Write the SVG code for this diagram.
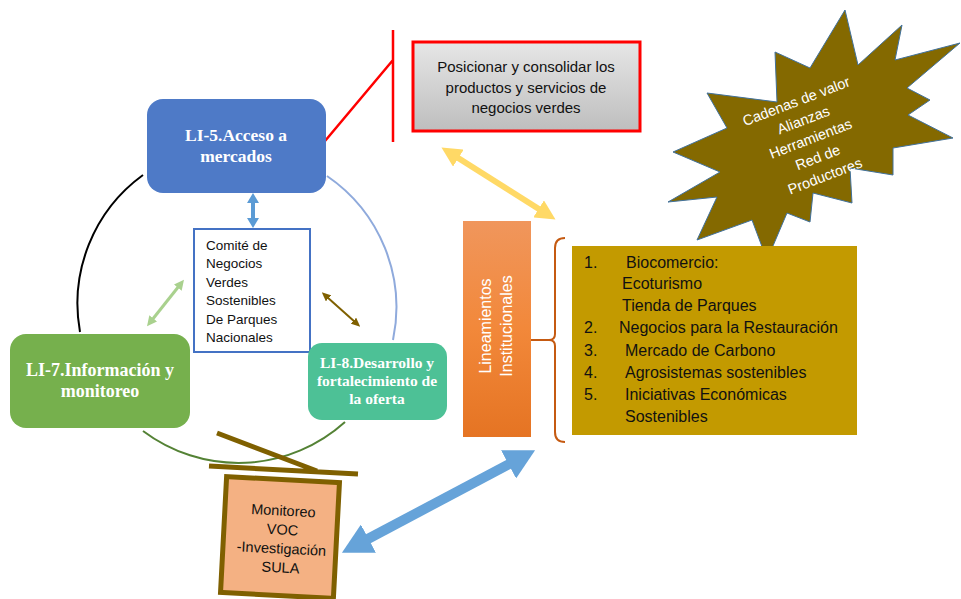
<svg xmlns="http://www.w3.org/2000/svg" width="961" height="599" viewBox="0 0 961 599">
<defs>
<style>
.serif{font-family:"Liberation Serif","Times New Roman",serif;font-weight:bold;fill:#fff;text-anchor:middle}
.sans{font-family:"Liberation Sans",Arial,sans-serif;fill:#111}
.arc{fill:none;stroke-width:2}
</style>
<linearGradient id="gGray" x1="0" y1="0" x2="0" y2="1"><stop offset="0" stop-color="#E6E6E6"/><stop offset="1" stop-color="#BEBEBE"/></linearGradient>
<linearGradient id="gOrange" x1="0" y1="0" x2="0" y2="1"><stop offset="0" stop-color="#F0965C"/><stop offset="0.5" stop-color="#F2883A"/><stop offset="1" stop-color="#E57423"/></linearGradient>
<marker id="mBlueBig" viewBox="0 0 30 32" markerUnits="userSpaceOnUse" markerWidth="30" markerHeight="32" refX="5" refY="16" orient="auto-start-reverse"><path d="M0,0 L30,16 L0,32 z" fill="#66A3D9"/></marker>
<marker id="mYellow" viewBox="0 0 20 20" markerUnits="userSpaceOnUse" markerWidth="20" markerHeight="20" refX="4" refY="10" orient="auto-start-reverse"><path d="M0,0 L20,10 L0,20 z" fill="#FFD966"/></marker>
<marker id="mBlueS" viewBox="0 0 10 12" markerUnits="userSpaceOnUse" markerWidth="10" markerHeight="12" refX="2" refY="6" orient="auto-start-reverse"><path d="M0,0 L10,6 L0,12 z" fill="#5B9BD5"/></marker>
<marker id="mGreen" viewBox="0 0 10 10" markerUnits="userSpaceOnUse" markerWidth="10" markerHeight="10" refX="2" refY="5" orient="auto-start-reverse"><path d="M0,0 L10,5 L0,10 z" fill="#A9D18E"/></marker>
<marker id="mBrown" viewBox="0 0 9 8" markerUnits="userSpaceOnUse" markerWidth="9" markerHeight="8" refX="2" refY="4" orient="auto-start-reverse"><path d="M0,0 L9,4 L0,8 z" fill="#7F6000"/></marker>
</defs>
<rect width="961" height="599" fill="#fff"/>

<g id="connectors">
<path class="arc" d="M143,175 A159,159 0 0 0 80,332" stroke="#000"/>
<path class="arc" d="M327,176 A159,159 0 0 1 393,340" stroke="#8FAADC"/>
<path class="arc" d="M143,431 A159,159 0 0 0 345,422" stroke="#548235"/>
<path d="M325,141 L393,60 M393,30 L393,142" fill="none" stroke="#FF0000" stroke-width="2.5"/>
<line x1="455" y1="156" x2="542" y2="211" stroke="#FFD966" stroke-width="6" marker-start="url(#mYellow)" marker-end="url(#mYellow)"/>
<line x1="364" y1="541" x2="513" y2="462" stroke="#66A3D9" stroke-width="10" marker-start="url(#mBlueBig)" marker-end="url(#mBlueBig)"/>
<line x1="253" y1="201" x2="253" y2="220" stroke="#5B9BD5" stroke-width="4" marker-start="url(#mBlueS)" marker-end="url(#mBlueS)"/>
<line x1="152" y1="320" x2="179" y2="286" stroke="#A9D18E" stroke-width="3" marker-start="url(#mGreen)" marker-end="url(#mGreen)"/>
<line x1="327" y1="297" x2="355" y2="322" stroke="#7F6000" stroke-width="2" marker-start="url(#mBrown)" marker-end="url(#mBrown)"/>
<path d="M217,433 L317,471 M209,466 L358,474" fill="none" stroke="#7F6000" stroke-width="5"/>
<path d="M565,238 Q555,238 555,248 L555,334 Q555,340 549,340 L531,340 M549,340 Q555,340 555,346 L555,432 Q555,442 565,442" fill="none" stroke="#C55A11" stroke-width="2"/>
</g>

<g id="li5">
<rect x="147" y="99" width="179" height="94" rx="16" fill="#4E7AC7"/>
<text class="serif" x="236" y="141" font-size="17.5">LI-5.Acceso a</text>
<text class="serif" x="236" y="162" font-size="17.5">mercados</text>
</g>

<g id="posicionar">
<rect x="413" y="42" width="227" height="89" fill="url(#gGray)" stroke="#FF0000" stroke-width="3"/>
<text class="sans" font-size="15" text-anchor="middle"><tspan x="526" y="72">Posicionar y consolidar los</tspan><tspan x="526" y="93">productos y servicios de</tspan><tspan x="526" y="113">negocios verdes</tspan></text>
</g>

<g id="star">
<path d="M845,10 L858,65 L902,25 L895,60 L960,43 L907,88 L930,100 L908,115 L953,138 L893,148 L893,175 L850,168 L852,203 L813,193 L810,222 L787,213 L767,260 L752,220 L697,240 L717,197 L668,202 L720,172 L673,152 L727,128 L707,93 L777,102 L775,52 L810,68 Z" fill="#846900" stroke="#41719C" stroke-width="1"/>
<g transform="translate(798,106) rotate(-21)">
<text font-family="Liberation Sans,Arial,sans-serif" font-size="14.5" fill="#fff" text-anchor="middle"><tspan x="0" y="0">Cadenas de valor</tspan><tspan x="0" y="20">Alianzas</tspan><tspan x="0" y="40">Herramientas</tspan><tspan x="0" y="60">Red de</tspan><tspan x="0" y="80">Productores</tspan></text>
</g>
</g>

<g id="lineamientos">
<rect x="463" y="221" width="68" height="216" fill="url(#gOrange)"/>
<text font-family="Liberation Sans,Arial,sans-serif" font-size="16" fill="#fff" text-anchor="middle" transform="translate(491,326) rotate(-90)"><tspan x="0" y="0">Lineamientos</tspan><tspan x="0" y="21">Institucionales</tspan></text>
</g>

<g id="lista">
<rect x="572" y="246" width="285" height="189" fill="#C39A00"/>
<text class="sans" font-size="16">
<tspan x="584" y="268">1.</tspan><tspan x="626" y="268">Biocomercio:</tspan>
<tspan x="622" y="289">Ecoturismo</tspan>
<tspan x="622" y="311">Tienda de Parques</tspan>
<tspan x="584" y="333">2.</tspan><tspan x="619" y="333">Negocios para la Restauración</tspan>
<tspan x="584" y="356">3.</tspan><tspan x="625" y="356">Mercado de Carbono</tspan>
<tspan x="584" y="378">4.</tspan><tspan x="625" y="378">Agrosistemas sostenibles</tspan>
<tspan x="584" y="400">5.</tspan><tspan x="625" y="400">Iniciativas Económicas</tspan>
<tspan x="625" y="422">Sostenibles</tspan>
</text>
</g>

<g id="comite">
<rect x="194" y="229" width="116" height="123" fill="#fff" stroke="#4472C4" stroke-width="2"/>
<text class="sans" font-size="13.5"><tspan x="206" y="250">Comité de</tspan><tspan x="206" y="268">Negocios</tspan><tspan x="206" y="287">Verdes</tspan><tspan x="206" y="305">Sostenibles</tspan><tspan x="206" y="324">De Parques</tspan><tspan x="206" y="342">Nacionales</tspan></text>
</g>

<g id="li7">
<rect x="10" y="334" width="180" height="94" rx="16" fill="#76B04D"/>
<text class="serif" x="100" y="376" font-size="18">LI-7.Información y</text>
<text class="serif" x="100" y="397" font-size="18">monitoreo</text>
</g>

<g id="li8">
<rect x="308" y="343" width="139" height="77" rx="14" fill="#4DC196"/>
<text class="serif" x="377" y="368" font-size="15.5">LI-8.Desarrollo y</text>
<text class="serif" x="377" y="386" font-size="15.5">fortalecimiento de</text>
<text class="serif" x="377" y="404" font-size="15.5">la oferta</text>
</g>

<g id="monitoreo" transform="translate(280,537.5) rotate(3)">
<rect x="-56.5" y="-58" width="113" height="116" fill="#F4B183" stroke="#7F6000" stroke-width="5"/>
<text class="sans" font-size="14.5" text-anchor="middle"><tspan x="2" y="-22">Monitoreo</tspan><tspan x="2" y="-3">VOC</tspan><tspan x="2" y="16">-Investigación</tspan><tspan x="2" y="35">SULA</tspan></text>
</g>
</svg>
